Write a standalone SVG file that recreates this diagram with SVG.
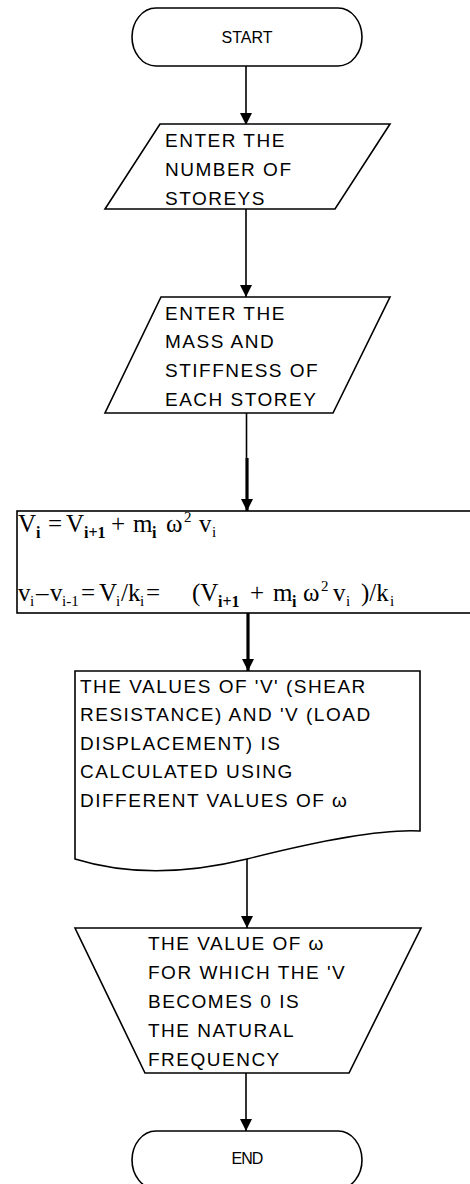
<svg xmlns="http://www.w3.org/2000/svg" width="470" height="1184" viewBox="0 0 470 1184">
  <style>
    .shape { fill: #ffffff; stroke: #000000; stroke-width: 1.6; }
    .conn { fill: none; stroke: #000000; stroke-width: 1.6; }
    .thick { fill: none; stroke: #000000; stroke-width: 3.2; }
    .lbl { font-family: "Liberation Sans", Arial, sans-serif; font-size: 19px; letter-spacing: 1.5px; fill: #000000; }
    .term { font-family: "Liberation Sans", Arial, sans-serif; font-size: 16px; fill: #000000; text-anchor: middle; }
    .math { font-family: "Liberation Serif", "Times New Roman", serif; font-size: 25px; fill: #000000; }
    .sub { font-size: 15px; }
    .bsub { font-size: 16px; font-weight: bold; }
  </style>
  <defs>
    <marker id="ah" viewBox="0 0 12 12" refX="12" refY="6" markerWidth="12" markerHeight="12" orient="auto" markerUnits="userSpaceOnUse">
      <path d="M0,0 L12,6 L0,12 Z" fill="#000000"/>
    </marker>
  </defs>
  <rect width="470" height="1184" fill="#ffffff"/>

  <g id="connectors">
    <path class="conn" d="M246,66 V125" marker-end="url(#ah)"/>
    <path class="conn" d="M246,209 V297" marker-end="url(#ah)"/>
    <path class="conn" d="M246.5,413 V458"/>
    <path class="thick" d="M247,458 V511" marker-end="url(#ah)"/>
    <path class="thick" d="M248,613 V671" marker-end="url(#ah)"/>
    <path class="conn" d="M247,859 V928" marker-end="url(#ah)"/>
    <path class="conn" d="M246,1073 V1131" marker-end="url(#ah)"/>
  </g>

  <g id="start">
    <path class="shape" d="M156,8 H338 C352,8 362,22 362,37 C362,52 352,66 338,66 H156 C142,66 132,52 132,37 C132,22 142,8 156,8 Z"/>
    <text class="term" x="247" y="43">START</text>
  </g>

  <g id="input-storeys">
    <polygon class="shape" points="160,124 390,124 335,209 105,209"/>
    <text class="lbl" x="165" y="147">ENTER THE</text>
    <text class="lbl" x="165" y="176">NUMBER OF</text>
    <text class="lbl" x="165" y="205">STOREYS</text>
  </g>

  <g id="input-mass">
    <polygon class="shape" points="161,297 390,297 333,413 105,413"/>
    <text class="lbl" x="165" y="320">ENTER THE</text>
    <text class="lbl" x="165" y="348">MASS AND</text>
    <text class="lbl" x="165" y="377">STIFFNESS OF</text>
    <text class="lbl" x="165" y="406">EACH STOREY</text>
  </g>

  <g id="equations">
    <rect class="shape" x="17" y="511" width="470" height="102"/>
    <text class="math"><tspan x="18" y="532">V</tspan><tspan class="bsub" x="36" y="538">i</tspan><tspan x="48" y="532">=</tspan><tspan x="66" y="532">V</tspan><tspan class="bsub" x="84" y="538">i+1</tspan><tspan x="111" y="532">+</tspan><tspan x="133" y="532">m</tspan><tspan class="bsub" x="152" y="538">i</tspan><tspan x="166" y="532">ω</tspan><tspan class="sub" x="184" y="522">2</tspan><tspan x="199" y="532">v</tspan><tspan class="sub" x="212" y="537">i</tspan></text>
    <text class="math"><tspan x="18" y="601">v</tspan><tspan class="sub" x="30" y="606">i</tspan><tspan x="36" y="601">–</tspan><tspan x="50" y="601">v</tspan><tspan class="sub" x="62" y="606">i-1</tspan><tspan x="81" y="601">=</tspan><tspan x="99" y="601">V</tspan><tspan class="sub" x="116" y="606">i</tspan><tspan x="121" y="601">/k</tspan><tspan class="sub" x="140" y="606">i</tspan><tspan x="146" y="601">=</tspan><tspan x="192" y="601">(V</tspan><tspan class="bsub" x="218" y="607">i+1</tspan><tspan x="250" y="601">+</tspan><tspan x="273" y="601">m</tspan><tspan class="bsub" x="292" y="607">i</tspan><tspan x="303" y="601">ω</tspan><tspan class="sub" x="321" y="591">2</tspan><tspan x="333" y="601">v</tspan><tspan class="sub" x="346" y="606">i</tspan><tspan x="361" y="601">)/k</tspan><tspan class="sub" x="390" y="606">i</tspan></text>
  </g>

  <g id="calculate">
    <path class="shape" d="M75,671 H420 V831 C385,829 330,838 247,859 C190,873 130,876 75,859 Z"/>
    <text class="lbl" x="80" y="693">THE VALUES OF 'V' (SHEAR</text>
    <text class="lbl" x="80" y="721">RESISTANCE) AND 'V (LOAD</text>
    <text class="lbl" x="80" y="750">DISPLACEMENT) IS</text>
    <text class="lbl" x="80" y="778">CALCULATED USING</text>
    <text class="lbl" x="80" y="807">DIFFERENT VALUES OF ω</text>
  </g>

  <g id="result">
    <polygon class="shape" points="75,928 421,928 349,1073 145,1073"/>
    <text class="lbl" x="148" y="950">THE VALUE OF ω</text>
    <text class="lbl" x="148" y="979">FOR WHICH THE 'V</text>
    <text class="lbl" x="148" y="1008">BECOMES 0 IS</text>
    <text class="lbl" x="148" y="1037">THE NATURAL</text>
    <text class="lbl" x="148" y="1066">FREQUENCY</text>
  </g>

  <g id="end">
    <path class="shape" d="M156,1131 H338 C352,1131 362,1145 362,1160 C362,1175 352,1189 338,1189 H156 C142,1189 132,1175 132,1160 C132,1145 142,1131 156,1131 Z"/>
    <text class="term" x="247" y="1164" style="letter-spacing:-1px">END</text>
  </g>
</svg>
